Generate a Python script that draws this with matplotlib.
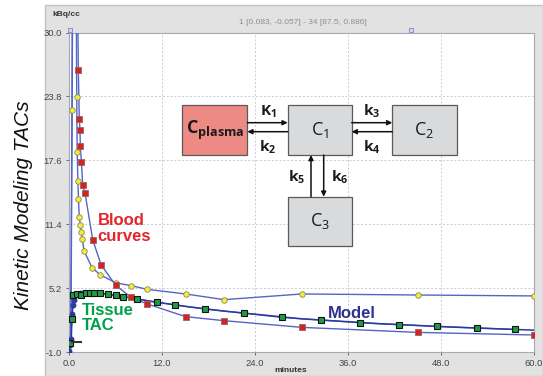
import matplotlib
matplotlib.use("Agg")
import matplotlib.pyplot as plt
from matplotlib.patches import Rectangle, FancyArrowPatch

# ---------------- data ----------------
x_ticks = [0.0, 12.0, 24.0, 36.0, 48.0, 60.0]
y_ticks = [-1.0, 5.2, 11.4, 17.6, 23.8, 30.0]

# blood curve A (yellow circles); first and third points: rise start and off-chart peak (estimate)
yellow_t = [0.2, 0.39, 0.62, 1.0, 1.05, 1.15, 1.22, 1.33, 1.46, 1.6, 1.72, 1.94,
            3.0, 4.05, 6.08, 8.02, 10.1, 15.05, 20.0, 30.05, 45.06, 60.0]
yellow_y = [-0.6, 22.5, 80.0, 23.7, 18.4, 15.6, 13.85, 12.1, 11.35, 10.6, 9.97, 8.8,
            7.15, 6.48, 5.7, 5.44, 5.08, 4.63, 4.08, 4.63, 4.53, 4.44]

# blood curve B (red squares); first two points: rise start and off-chart peak (estimate)
red_t = [0.25, 0.7, 1.2, 1.33, 1.42, 1.46, 1.6, 1.77, 2.07, 3.06, 4.14, 6.0, 8.0,
         10.1, 15.05, 20.0, 30.05, 45.06, 60.0]
red_y = [-0.6, 70.0, 26.4, 21.6, 20.55, 19.0, 17.4, 15.2, 14.4, 9.9, 7.45, 5.5, 4.3,
         3.66, 2.43, 2.04, 1.39, 0.9, 0.65]

# tissue TAC (green squares)
green_t = [0.13, 0.39, 0.56, 1.0, 1.55, 2.2, 2.7, 3.28, 4.0, 5.0, 6.03, 7.03, 8.8,
           11.3, 13.7, 17.5, 22.55, 27.5, 32.5, 37.55, 42.6, 47.5, 52.6, 57.5]
green_y = [-0.13, 2.2, 4.56, 4.63, 4.56, 4.73, 4.76, 4.76, 4.7, 4.6, 4.5, 4.37, 4.15,
           3.82, 3.56, 3.17, 2.77, 2.35, 2.1, 1.84, 1.65, 1.48, 1.33, 1.19]

# model fit (navy)
model_t = [0.0, 0.13, 0.3, 0.39, 0.52, 0.65, 0.8, 1.0, 1.5, 2.0, 3.0, 4.0, 5.0, 6.0,
           8.0, 10.0, 15.0, 20.0, 30.0, 40.0, 50.0, 60.0]
model_y = [-0.9, -0.3, 0.26, 2.7, 3.6, 4.0, 4.5, 4.65, 4.72, 4.76, 4.76, 4.7, 4.6, 4.5,
           4.25, 3.99, 3.43, 2.97, 2.22, 1.75, 1.40, 1.12]

# ---------------- figure ----------------
W, H = 543, 376
fig = plt.figure(figsize=(W / 100, H / 100), dpi=100)
fig.patch.set_facecolor("white")

def fx(x):
    return x / W

def fy(y):
    return 1 - y / H

# gray panel
fig.add_artist(Rectangle((fx(45), 0), 1 - fx(45), fy(5), transform=fig.transFigure,
                         facecolor="#E2E2E2", edgecolor="#C4C4C4", lw=1.0, zorder=0))

ax = fig.add_axes([fx(69), fy(352), fx(534) - fx(69), fy(32.5) - fy(352)])
ax.set_facecolor("white")
ax.set_xlim(0, 60)
ax.set_ylim(-1, 30)
ax.set_xticks(x_ticks)
ax.set_yticks(y_ticks)
ax.set_xticklabels([f"{v:.1f}" for v in x_ticks], family="Liberation Sans")
ax.set_yticklabels([f"{v:.1f}" for v in y_ticks], family="Liberation Sans")
ax.tick_params(labelsize=6.8, colors="#555555", length=2, width=0.6, pad=3,
               labelcolor="#444444")
for s in ax.spines.values():
    s.set_color("#A8A8B8")
    s.set_linewidth(0.8)
ax.grid(True, linestyle=(0, (2, 2)), color="#C8CCD8", lw=0.7)
ax.set_axisbelow(True)

line_c = "#5565C4"
ax.plot(yellow_t, yellow_y, color=line_c, lw=1.0, zorder=3)
ax.plot(red_t, red_y, color=line_c, lw=1.0, zorder=3)
ax.plot(green_t, green_y, color=line_c, lw=1.0, zorder=3)
ax.plot(model_t, model_y, color="#2B3A9E", lw=1.1, zorder=3)
ax.plot(model_t[:10], model_y[:10], "o", color="#2B3A9E", ms=3.2, zorder=4)

ax.plot(yellow_t[1:2] + yellow_t[3:], yellow_y[1:2] + yellow_y[3:], "o", ms=4,
        mfc="#F4EC3C", mec="#8C8A50", mew=0.6, zorder=5)
ax.plot(red_t[2:], red_y[2:], "s", ms=4, mfc="#D8221E", mec="#8A6A6A", mew=0.6, zorder=5)
ax.plot(green_t, green_y, "s", ms=4.6, mfc="#1E9C44", mec="#111111", mew=0.8, zorder=6)

# cursor marks
ax.plot([0.4, 1.5], [0.0, 0.0], color="#333333", lw=1.5, zorder=7)
ax.plot([0.15, 44.1], [30.25, 30.25], "s", ms=3.5, mfc="#D0D4EE", mec="#8088C0",
        mew=0.6, clip_on=False, zorder=7, linestyle="none")

# annotations in chart
fig.text(fx(97.7), fy(225), "Blood", color="#E3262B", fontsize=12, fontweight="bold",
         family="Liberation Sans", va="baseline", ha="left")
fig.text(fx(97.7), fy(240.7), "curves", color="#E3262B", fontsize=12, fontweight="bold",
         family="Liberation Sans", va="baseline", ha="left")
fig.text(fx(81.7), fy(315), "Tissue", color="#00A04A", fontsize=12, fontweight="bold",
         family="Liberation Sans", va="baseline", ha="left")
fig.text(fx(81.7), fy(330.5), "TAC", color="#00A04A", fontsize=12, fontweight="bold",
         family="Liberation Sans", va="baseline", ha="left")
fig.text(fx(327.7), fy(318), "Model", color="#2E3192", fontsize=12, fontweight="bold",
         family="Liberation Sans", va="baseline", ha="left")

# labels
fig.text(fx(24), fy(205), "Kinetic Modeling TACs", rotation=90, fontsize=15,
         style="italic", family="Liberation Sans", ha="center", va="center",
         color="#111111")
fig.text(fx(52), fy(14), "kBq/cc", fontsize=6, fontweight="bold", color="#333333",
         ha="left", va="center", family="Liberation Sans")
fig.text(fx(303), fy(22.7), "1 [0.083, -0.057] - 34 [87.5, 0.886]", fontsize=6,
         color="#8E8E8E", ha="center", va="center", family="Liberation Sans")
fig.text(fx(291), fy(370.5), "minutes", fontsize=6, fontweight="bold", color="#333333",
         ha="center", va="center", family="Liberation Sans")

# ---------------- compartment diagram ----------------
plt.rcParams["mathtext.fontset"] = "custom"
plt.rcParams["mathtext.rm"] = "Open Sans"
plt.rcParams["mathtext.bf"] = "Open Sans:bold"
plt.rcParams["mathtext.it"] = "Open Sans:italic"

def box(x0, y0, x1, y1, fc):
    fig.add_artist(Rectangle((fx(x0), fy(y1)), fx(x1) - fx(x0), fy(y0) - fy(y1),
                             transform=fig.transFigure, facecolor=fc,
                             edgecolor="#5A5A5A", lw=0.9, zorder=10))

box(182.3, 105, 247.3, 155, "#EE8A84")
box(287.7, 105, 351.7, 155, "#D9DADC")
box(392.3, 105, 456.7, 155, "#D9DADC")
box(287.7, 196.7, 351.7, 246, "#D9DADC")

def arrow(p0, p1):
    fig.add_artist(FancyArrowPatch((fx(p0[0]), fy(p0[1])), (fx(p1[0]), fy(p1[1])),
                                   transform=fig.transFigure, arrowstyle="-|>",
                                   mutation_scale=7, lw=1.1, color="#111111",
                                   shrinkA=0, shrinkB=0, zorder=11))

arrow((247.3, 122.7), (287.7, 122.7))
arrow((287.7, 131.7), (247.3, 131.7))
arrow((351.7, 122.7), (392.3, 122.7))
arrow((392.3, 131.7), (351.7, 131.7))
arrow((311, 196.7), (311, 155))
arrow((323.7, 155), (323.7, 196.7))

def lab(x, y, s, size):
    fig.text(fx(x), fy(y), s, fontsize=size, ha="center", va="center",
             color="#1A1A1A", zorder=12)

lab(214.8, 130, r"$\mathbf{C_{plasma}}$", 13)
lab(319.7, 130, r"$\mathrm{C_1}$", 13)
lab(424.5, 130, r"$\mathrm{C_2}$", 13)
lab(319.7, 221.3, r"$\mathrm{C_3}$", 13)
lab(268, 112, r"$\mathbf{K}_\mathbf{1}$", 11)
lab(268, 147, r"$\mathbf{k}_\mathbf{2}$", 11)
lab(371.7, 111, r"$\mathbf{k}_\mathbf{3}$", 11)
lab(371.7, 147, r"$\mathbf{k}_\mathbf{4}$", 11)
lab(297, 177, r"$\mathbf{k}_\mathbf{5}$", 11)
lab(340, 177, r"$\mathbf{k}_\mathbf{6}$", 11)

fig.savefig("out.png", dpi=100)
